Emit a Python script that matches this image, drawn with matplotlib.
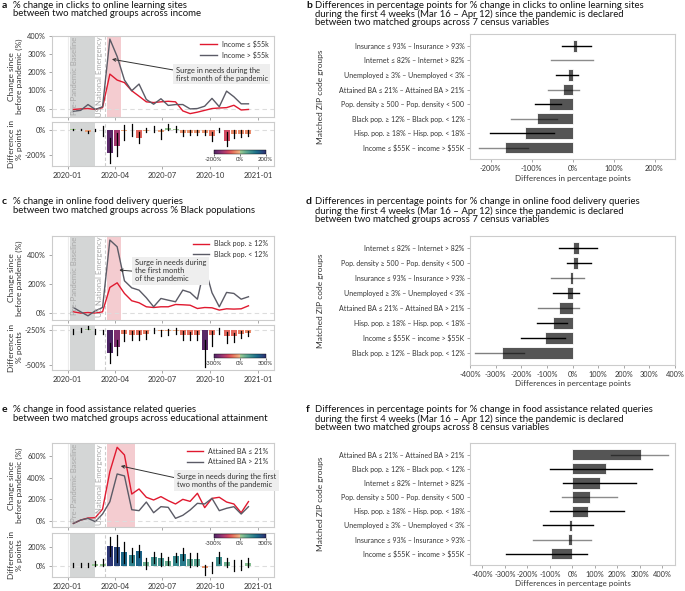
import numpy as np
import pandas as pd
import matplotlib
matplotlib.use("Agg")
import matplotlib.pyplot as plt
import matplotlib.dates as mdates
import matplotlib as mpl
from matplotlib.colors import ListedColormap, Normalize, LinearSegmentedColormap

try:
    import seaborn as sns
    flare = sns.color_palette("flare", as_cmap=True)
    crest = sns.color_palette("crest", as_cmap=True)
except Exception:
    flare = LinearSegmentedColormap.from_list("flare", ["#eda678", "#e3685c", "#c73866", "#8e2b6f", "#4b2362"])
    crest = LinearSegmentedColormap.from_list("crest", ["#a5cd90", "#5fb195", "#2f8c8c", "#276b86", "#2c3172"])

plt.rcParams["font.family"] = ["Lato", "DejaVu Sans"]

cmap = ListedColormap(np.vstack([flare(np.linspace(1, 0, 128)), crest(np.linspace(0, 1, 128))]))

# ---------------- data ----------------
dates = pd.date_range("2020-01-12", periods=25, freq="14D")

# panel a: clicks to online learning sites, income
a_low = [-5, -2, 0, -5, 5, 190, 157, 143, 98, 68, 37, 33, 37, 40, 37, -13, -28, -20, -10, 0, 3, 5, 18, -8, -5]
a_high = [-15, -10, 22, -5, 10, 383, 287, 157, 98, 135, 50, 24, 54, 17, 22, 22, -2, 0, 13, 56, 10, 96, 65, 26, 26]
a_diff = [3, 2, -15, 0, 0, -187, -125, -8, 0, -61, -8, 0, -15, 12, 8, -25, -22, -22, -22, -50, 0, -85, -30, -30, -30]
a_lo = [-3, -2, -28, -5, -45, -267, -208, -80, -45, -107, -19, -19, -72, 0, -13, -50, -40, -40, -40, -85, -19, -125, -61, -58, -45]
a_hi = [8, 6, -5, 8, 27, -67, -27, 40, 48, -13, 13, 32, 8, 45, 27, 0, 0, 0, 0, -13, 13, -13, 0, 0, 0]

# panel c: online food delivery, % Black population
c_low = [7, -2, 2, -2, 7, 177, 209, 135, 84, 70, 42, 37, 42, 42, 58, 56, 53, 30, 37, 35, 19, 28, 26, 28, 49]
c_high = [37, 7, -21, 14, 37, 507, 460, 223, 174, 158, 105, 42, 100, 88, 77, 158, 142, 95, 321, 140, 42, 142, 135, 95, 112]
c_diff = [-3, 0, 5, -2, -3, -160, -117, -32, -36, -39, -32, 0, -10, -10, -5, -39, -39, -39, -141, -39, 0, -44, -44, -32, -24]
c_lo = [-32, -15, 5, -32, -32, -233, -177, -80, -73, -73, -63, -19, -44, -39, -32, -73, -68, -68, -262, -116, -32, -92, -87, -56, -44]
c_hi = [5, 17, 29, 5, 0, -92, -68, -2, -7, -7, -7, 17, 0, 5, 17, -7, -15, -7, -68, -7, 17, -15, -19, -7, -7]
c_base = -250

# panel e: food assistance, educational attainment
e_low = [-22, 9, 28, 31, 110, 458, 683, 612, 250, 297, 220, 195, 226, 189, 158, 201, 182, 257, 124, 210, 220, 176, 158, 77, 180]
e_high = [-22, 9, 25, -6, 65, 179, 436, 418, 105, 96, 176, 77, 133, 127, 25, 53, 102, 164, 158, 210, 96, 118, 133, 65, 133]
e_diff = [0, 0, 0, 15, 15, 214, 196, 150, 114, 157, 43, 96, 86, 50, 104, 125, 68, 68, -25, 0, 96, 43, 0, 0, 25]
e_lo = [-10, -10, -15, -4, -4, 107, 43, 25, 43, 89, -39, 25, 0, 7, 43, 61, -11, -4, -100, -82, 25, -11, -54, -50, -11]
e_hi = [25, 25, 30, 50, 68, 304, 329, 257, 186, 221, 79, 150, 139, 96, 139, 186, 139, 139, 7, 43, 150, 79, 61, 61, 79]

# right panels
b_labels = ["Insurance ≤ 93% – Insurance > 93%", "Internet ≤ 82% – Internet > 82%",
            "Unemployed ≥ 3% – Unemployed < 3%", "Attained BA ≤ 21% – Attained BA > 21%",
            "Pop. density ≥ 500 – Pop. density < 500", "Black pop. ≥ 12% – Black pop. < 12%",
            "Hisp. pop. ≥ 18% – Hisp. pop. < 18%", "Income ≤ \\$55K – income > \\$55K"]
b_vals = [11, 2, -11, -22, -58, -86, -117, -164]
b_lo = [-26, -53, -40, -59, -91, -150, -202, -227]
b_hi = [45, 49, 13, 15, -28, -39, -46, -109]
b_alpha = [1, .45, 1, .45, 1, .45, 1, .45]

d_labels = ["Internet ≤ 82% – Internet > 82%", "Pop. density ≥ 500 – Pop. density < 500",
            "Insurance ≤ 93% – Insurance > 93%", "Unemployed ≥ 3% – Unemployed < 3%",
            "Attained BA ≤ 21% – Attained BA > 21%", "Hisp. pop. ≥ 18% – Hisp. pop. < 18%",
            "Income ≤ \\$55K – income > \\$55K", "Black pop. ≥ 12% – Black pop. < 12%"]
d_vals = [25, 22, -9, -22, -51, -77, -108, -276]
d_lo = [-51, -22, -82, -75, -136, -137, -201, -382]
d_hi = [95, 73, 43, 27, 24, -22, -29, -188]
d_alpha = [1, 1, .5, 1, .5, 1, 1, .5]

f_labels = ["Attained BA ≤ 21% – Attained BA > 21%", "Black pop. ≥ 12% – Black pop. < 12%",
            "Internet ≤ 82% – Internet > 82%", "Pop. density ≥ 500 – Pop. density < 500",
            "Hisp. pop. ≥ 18% – Hisp. pop. < 18%", "Unemployed ≥ 3% – Unemployed < 3%",
            "Insurance ≤ 93% – Insurance > 93%", "Income ≤ \\$55K – income > \\$55K"]
f_vals = [305, 148, 123, 80, 68, -15, -18, -96]
f_lo = [170, -99, -43, -44, -99, -130, -173, -296]
f_hi = [427, 352, 281, 197, 230, 93, 83, 65]
f_alpha = [.45, 1, 1, .45, 1, 1, .45, 1]

# ---------------- layout helpers ----------------
W, H = 685, 591
fig = plt.figure(figsize=(6.85, 5.91), dpi=100)


def rect(l, t, r, b):
    return [l / W, 1 - b / H, (r - l) / W, (b - t) / H]


SPINE = "#cccccc"
TXT = "#333333"
RED = "#e0192f"
GRAY = "#5b5b66"
XL = (pd.Timestamp("2019-12-01"), pd.Timestamp("2021-01-31"))
BASE0, BASE1 = pd.Timestamp("2020-01-06"), pd.Timestamp("2020-02-22")
EMERG = pd.Timestamp("2020-03-13")


def style(ax, labelsize=5.3):
    for s in ax.spines.values():
        s.set_color(SPINE)
        s.set_linewidth(0.8)
    ax.tick_params(length=2.5, width=0.6, color="#999999", labelcolor=TXT, labelsize=labelsize, pad=1.5)


def left_panel(mt, mb, dt, db, low, high, lab_low, lab_high, ylim, yticks,
               diff, lo, hi, dylim, dyticks, base, cs, cblim, cbtop, surge_end,
               ann_text, ann_xy, ann_xytext, ann_rel):
    ax = fig.add_axes(rect(51.5, mt, 274, mb))
    style(ax)
    ax.axvspan(BASE0, BASE1, color="#d4d6d6", lw=0, zorder=0)
    ax.axvspan(pd.Timestamp("2020-03-16"), surge_end, color="#f4ccd0", lw=0, zorder=0)
    ax.axvline(pd.Timestamp("2020-01-01"), color="#ececec", lw=0.8, zorder=0)
    ax.axvline(EMERG, color="#cccccc", lw=0.8, ls=(0, (3, 2)), zorder=1)
    ax.axhline(0, color="#dddddd", lw=0.8, ls=(0, (4, 3)), zorder=1)
    ax.plot(dates, low, color=RED, lw=1.0, label=lab_low, zorder=3)
    ax.plot(dates, high, color=GRAY, lw=1.0, label=lab_high, zorder=3)
    ax.set_xlim(*XL)
    ax.set_ylim(*ylim)
    ax.set_yticks(yticks)
    ax.set_yticklabels([f"{v}%" for v in yticks])
    ax.xaxis.set_major_locator(mdates.MonthLocator(bymonth=[1, 4, 7, 10]))
    ax.set_xticklabels([])
    ax.text(pd.Timestamp("2020-01-14"), ylim[1] - (ylim[1] - ylim[0]) * 0.01, "Pre-Pandemic Baseline",
            rotation=90, ha="center", va="top", fontsize=5.6, color="#a8a8a8")
    ax.text(EMERG - pd.Timedelta(days=11), ylim[1] - (ylim[1] - ylim[0]) * 0.01, "US National Emergency",
            rotation=90, ha="center", va="top", fontsize=5.6, color="#a8a8a8")
    leg = ax.legend(loc="upper right", bbox_to_anchor=(0.975, 0.95), frameon=False, fontsize=5.1,
                    handlelength=2.3, handletextpad=0.7, labelspacing=0.5, borderpad=0, borderaxespad=0)
    for t in leg.get_texts():
        t.set_color(TXT)
    ax.annotate(ann_text, xy=ann_xy, xytext=ann_xytext, fontsize=5.4, color=TXT, ha="left", va="center",
                linespacing=1.15,
                bbox=dict(boxstyle="square,pad=0.35", fc="#eeeeee", ec="none"),
                arrowprops=dict(arrowstyle="->", color="#333333", lw=0.7, relpos=ann_rel,
                                shrinkA=0, shrinkB=0, mutation_scale=5), zorder=5)

    dx = fig.add_axes(rect(51.5, dt, 274, db))
    style(dx)
    dx.axvspan(BASE0, BASE1, color="#d4d6d6", lw=0, zorder=0)
    dx.axvline(pd.Timestamp("2020-01-01"), color="#ececec", lw=0.8, zorder=0)
    dx.axvline(EMERG, color="#cccccc", lw=0.8, ls=(0, (3, 2)), zorder=1)
    dx.axhline(base, color="#dddddd", lw=0.8, ls=(0, (4, 3)), zorder=1)
    cn = Normalize(-cs, cs)
    cols = [cmap(cn(v)) for v in diff]
    dx.bar(dates, diff, bottom=base, width=11.5, color=cols, lw=0, zorder=2)
    for d, l, h in zip(dates, lo, hi):
        dx.plot([d, d], [base + l, base + h], color="black", lw=0.9, zorder=3)
    dx.set_xlim(*XL)
    dx.set_ylim(*dylim)
    dx.set_yticks(dyticks)
    dx.set_yticklabels([f"{v}%" for v in dyticks])
    dx.xaxis.set_major_locator(mdates.MonthLocator(bymonth=[1, 4, 7, 10]))
    dx.xaxis.set_major_formatter(mdates.DateFormatter("%Y-%m"))
    dx.tick_params(axis="x", labelsize=5.5, pad=2)

    cax = fig.add_axes(rect(213.5, cbtop, 265.5, cbtop + 4))
    cb = mpl.colorbar.ColorbarBase(cax, cmap=cmap, norm=Normalize(-cblim, cblim), orientation="horizontal",
                                   ticks=[-cblim, 0, cblim])
    cb.outline.set_linewidth(0.3)
    cb.ax.set_xticklabels([f"{-cblim}%", "0%", f"{cblim}%"])
    cb.ax.tick_params(labelsize=4.3, length=1.2, width=0.4, pad=1, labelcolor=TXT)

    fig.text(15.5 / W, 1 - (mt + mb) / 2 / H, "Change since\nbefore pandemic (%)", rotation=90,
             ha="center", va="center", fontsize=6.0, color=TXT, linespacing=1.05)
    fig.text(15.5 / W, 1 - (dt + db) / 2 / H, "Difference in\n% points", rotation=90,
             ha="center", va="center", fontsize=6.0, color=TXT, linespacing=1.05)


def right_panel(t, b, labels, vals, lo, hi, alphas, xlim, xticks):
    ax = fig.add_axes(rect(470, t, 675, b))
    style(ax, labelsize=5.0)
    y = np.arange(len(labels))
    ax.barh(y, vals, height=0.8, color="#555555", edgecolor="white", lw=0.6, zorder=2)
    for i in range(len(labels)):
        ax.plot([lo[i], hi[i]], [i, i], color="black", alpha=alphas[i], lw=1.0, zorder=3)
    ax.set_yticks(y)
    ax.set_yticklabels(labels)
    ax.set_ylim(len(labels) - 0.2, -0.8)
    ax.set_xlim(*xlim)
    ax.set_xticks(xticks)
    ax.set_xticklabels([f"{v}%" for v in xticks])
    ax.tick_params(axis="x", labelsize=5.3)
    ax.set_xlabel("Differences in percentage points", fontsize=5.8, color=TXT, labelpad=2)
    fig.text(320 / W, 1 - (t + b) / 2 / H, "Matched ZIP code groups", rotation=90,
             ha="center", va="center", fontsize=6.0, color=TXT)


def title(x_letter, x_text, top, letter, text):
    fig.text(x_letter / W, 1 - (top - 0.5) / H, letter, fontsize=7.5, weight="bold", va="top", ha="left",
             color="#111111")
    fig.text(x_text / W, 1 - (top - 0.5) / H, text, fontsize=6.9, va="top", ha="left", color="#111111",
             linespacing=0.95)


# ---------------- panels a/c/e ----------------
left_panel(36, 116.7, 121.7, 165.7, a_low, a_high, "Income ≤ \\$55k", "Income > \\$55k",
           (-45, 400), [0, 100, 200, 300, 400],
           a_diff, a_lo, a_hi, (-285, 65), [-200, 0], 0, 200, 200, 150,
           pd.Timestamp("2020-04-12"),
           "Surge in needs during the\nfirst month of the pandemic",
           (pd.Timestamp("2020-03-26"), 272), (pd.Timestamp("2020-07-26"), 190), (0, 0.75))

left_panel(236, 320, 325, 370, c_low, c_high, "Black pop. ≥ 12%", "Black pop. < 12%",
           (-50, 535), [0, 200, 400],
           c_diff, c_lo, c_hi, (-533, -215), [-500, -250], c_base, 150, 300, 354.3,
           pd.Timestamp("2020-04-12"),
           "Surge in needs during\nthe first month\nof the pandemic",
           (pd.Timestamp("2020-04-09"), 298), (pd.Timestamp("2020-05-09"), 292), (0, 0.48))

left_panel(443.3, 527.3, 532.7, 576.7, e_low, e_high, "Attained BA ≤ 21%", "Attained BA > 21%",
           (-58, 720), [0, 200, 400, 600],
           e_diff, e_lo, e_hi, (-118, 353), [0, 200], 0, 220, 300, 534,
           pd.Timestamp("2020-05-10"),
           "Surge in needs during the first\ntwo months of the pandemic",
           (pd.Timestamp("2020-04-12"), 510), (pd.Timestamp("2020-07-29"), 376), (0, 0.65))

# ---------------- panels b/d/f ----------------
right_panel(34.3, 159.3, b_labels, b_vals, b_lo, b_hi, b_alpha, (-250, 250), [-200, -100, 0, 100, 200])
right_panel(236, 365, d_labels, d_vals, d_lo, d_hi, d_alpha, (-400, 400), list(range(-400, 401, 100)))
right_panel(443.3, 565, f_labels, f_vals, f_lo, f_hi, f_alpha, (-455, 456), list(range(-400, 401, 100)))

# ---------------- titles ----------------
title(2, 12.7, 1, "a", "% change in clicks to online learning sites\nbetween two matched groups across income")
title(306, 315, 1, "b", "Differences in percentage points for % change in clicks to online learning sites\n"
      "during the first 4 weeks (Mar 16 – Apr 12) since the pandemic is declared\n"
      "between two matched groups across 7 census variables")
title(2, 12.7, 198, "c", "% change in online food delivery queries\nbetween two matched groups across % Black populations")
title(306, 315, 198, "d", "Differences in percentage points for % change in online food delivery queries\n"
      "during the first 4 weeks (Mar 16 – Apr 12) since the pandemic is declared\n"
      "between two matched groups across 7 census variables")
title(2, 12.7, 406, "e", "% change in food assistance related queries\nbetween two matched groups across educational attainment")
title(306, 315, 406, "f", "Differences in percentage points for % change in food assistance related queries\n"
      "during the first 4 weeks (Mar 16 – Apr 12) since the pandemic is declared\n"
      "between two matched groups across 8 census variables")

fig.savefig("out.png", dpi=100)
